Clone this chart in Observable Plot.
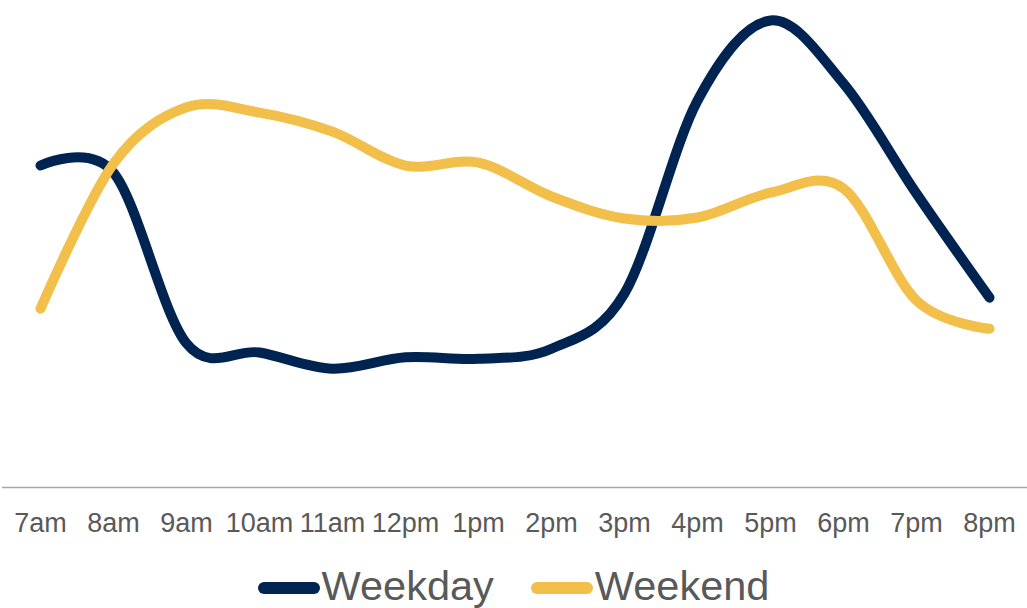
<!DOCTYPE html>
<html>
<head>
<meta charset="utf-8">
<script src="https://cdn.jsdelivr.net/npm/d3@7"></script>
<script src="https://cdn.jsdelivr.net/npm/@observablehq/plot@0.6"></script>
<style>
  html, body { margin: 0; padding: 0; background: #fff; }
  body { width: 1027px; height: 608px; overflow: hidden; font-family: "Liberation Sans", Arial, sans-serif; }
  #legend { display: flex; justify-content: center; align-items: center; margin-top: 12px; color: #595959; font-size: 41.5px; line-height: 47px; }
  .item { display: flex; align-items: center; }
  .sw { width: 62px; height: 12px; border-radius: 6px; margin-right: 2px; margin-top: 4px; }
  .gap { width: 37px; }
</style>
</head>
<body>
<div id="chart"></div>
<div id="legend"></div>
<script>
const hours = ["7am","8am","9am","10am","11am","12pm","1pm","2pm","3pm","4pm","5pm","6pm","7pm","8pm"];
const weekday = [67.5, 66.0, 30.2, 28.3, 24.9, 27.3, 27.0, 29.1, 40.7, 81.1, 97.9, 84.7, 61.6, 39.8];
const weekend = [37.5, 67.9, 79.7, 78.6, 74.6, 67.5, 68.1, 61.0, 56.4, 56.6, 61.8, 62.7, 39.2, 33.3];
const seriesNames = ["Weekday", "Weekend"];
const seriesColors = ["#002452", "#F2BF4A"];

const rows = [];
hours.forEach((h, i) => {
  rows.push({hour: h, value: weekday[i], series: seriesNames[0]});
  rows.push({hour: h, value: weekend[i], series: seriesNames[1]});
});

const chart = Plot.plot({
  width: 1027,
  height: 550,
  marginLeft: 2,
  marginRight: 0,
  marginTop: 10,
  marginBottom: 63,
  style: {fontFamily: "'Liberation Sans', Arial, sans-serif", background: "#fff", overflow: "visible"},
  x: {type: "point", domain: hours, padding: 0.5, label: null},
  y: {domain: [0, 100], axis: null},
  color: {domain: seriesNames, range: seriesColors},
  marks: [
    Plot.ruleY([0], {stroke: "#A6A6A6", strokeWidth: 1.5}),
    Plot.axisX({tickSize: 0, tickPadding: 25, fontSize: 27, fill: "#595959", label: null}),
    Plot.line(rows, {x: "hour", y: "value", z: "series", stroke: "series", strokeWidth: 10,
      strokeLinecap: "round", strokeLinejoin: "round", curve: "catmull-rom", tension: 0})
  ]
});
document.getElementById("chart").appendChild(chart);

const legend = document.getElementById("legend");
seriesNames.forEach((name, i) => {
  if (i > 0) { const g = document.createElement("div"); g.className = "gap"; legend.appendChild(g); }
  const item = document.createElement("div");
  item.className = "item";
  const sw = document.createElement("div");
  sw.className = "sw";
  sw.style.background = seriesColors[i];
  const t = document.createElement("span");
  t.textContent = name;
  item.appendChild(sw); item.appendChild(t);
  legend.appendChild(item);
});
</script>
</body>
</html>
